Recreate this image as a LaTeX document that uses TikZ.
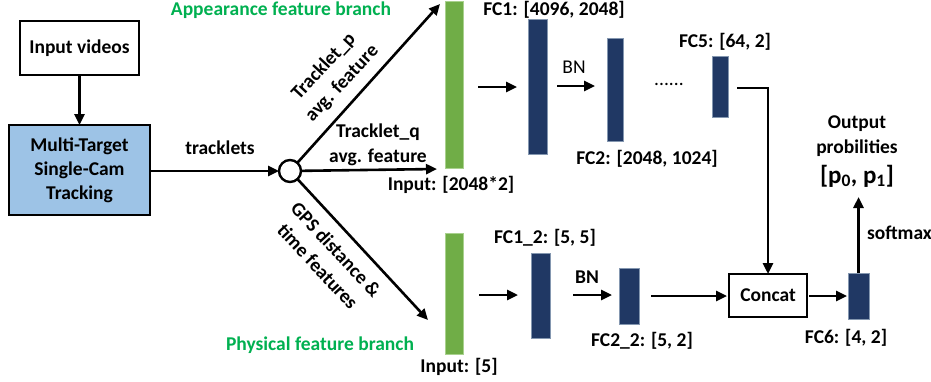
\documentclass[tikz,border=0pt]{standalone}
\usepackage{fontspec}
\setmainfont{Carlito}
\usetikzlibrary{arrows.meta,calc}
\definecolor{navy}{HTML}{203864}
\definecolor{navyedge}{HTML}{8497B0}
\definecolor{bargreen}{HTML}{70AD47}
\definecolor{greenedge}{HTML}{A9D18E}
\definecolor{txtgreen}{HTML}{00B050}
\definecolor{boxblue}{HTML}{9DC3E6}
\begin{document}
\begin{tikzpicture}[x=1pt,y=-1pt,
  every node/.style={font=\fontsize{19.5}{23}\selectfont\bfseries, inner sep=0pt, outer sep=0pt},
  lbl/.style={align=center},
  rotlbl/.style={align=center, font=\fontsize{19.5}{25}\selectfont\bfseries},
  box/.style={draw=black, line width=2pt, align=center},
  navybar/.style={draw=navyedge, line width=0.6pt, fill=navy},
  greenbar/.style={draw=greenedge, line width=0.6pt, fill=bargreen},
  arr/.style={line width=2.6pt, -{Triangle[length=11pt,width=10pt]}},
  hdr/.style={text=txtgreen},
  reg/.style={font=\fontsize{19.5}{23}\selectfont}
]
\useasboundingbox (0,0) rectangle (931,381);

% left boxes
\node[box, minimum width=119, minimum height=54] (vid) at (79.5,48) {Input videos};
\node[box, fill=boxblue, minimum width=141, minimum height=90, align=center] (mt) at (79.5,170)
  {Multi-Target\\[1pt]Single-Cam\\[1pt]Tracking};
\draw[arr] (vid) -- (mt);

% splitter circle
\node[draw=black, line width=2.4pt, circle, minimum size=22] (circ) at (290,171) {};
\draw[arr] (mt.east |- circ) -- (circ.west);
\node[lbl] (trk) at (220,148) {tracklets};

\coordinate (tipP) at (440,4);
\coordinate (tipQ) at (437,169);
\coordinate (tipG) at (428,320);
\draw[arr] (circ) -- (tipP);
\draw[arr] (circ) -- (tipQ);
\draw[arr] (circ) -- (tipG);

\node[rotlbl, rotate=47] (lp) at (333,75) {Tracklet\_p\\avg. feature};
\node[lbl] (lq) at (378,145) {Tracklet\_q\\[2pt]avg. feature};
\node[rotlbl, rotate=-47] (lg) at (327,258) {GPS distance \&\\time features};

% headers
\node[hdr] (apb) at (281,10) {Appearance feature branch};
\node[hdr] (phb) at (320,345) {Physical feature branch};

% appearance branch
\node[greenbar, minimum width=18, minimum height=167] (inp1) at (454,85) {};
\node (inp1l) at (451,185) {Input: [2048*2]};
\node[navybar, minimum width=19, minimum height=135] (fc1) at (537.5,87) {};
\node (fc1l) at (554,9.5) {FC1: [4096, 2048]};
\node[navybar, minimum width=16, minimum height=103] (fc2) at (615,89.5) {};
\node (fc2l) at (647,159) {FC2: [2048, 1024]};
\node[navybar, minimum width=16, minimum height=61] (fc5) at (720,86.5) {};
\node (fc5l) at (725,42) {FC5: [64, 2]};
\node[reg] (bn1) at (574,67) {BN};
\node[reg] (dots) at (669,84) {......};

\draw[arr, shorten <=15pt, shorten >=11pt] (inp1.east |- fc1.west) -- (fc1.west);
\draw[arr, shorten <=10pt, shorten >=12pt] (fc1.east |- 0,86) -- (fc2.west |- 0,86);

% physical branch
\node[greenbar, minimum width=18, minimum height=121] (inp2) at (454,293.5) {};
\node (inp2l) at (459,367) {Input: [5]};
\node[navybar, minimum width=19, minimum height=85] (fc12) at (540.5,295.5) {};
\node (fc12l) at (545,238) {FC1\_2: [5, 5]};
\node[navybar, minimum width=20, minimum height=56] (fc22) at (629,296) {};
\node (fc22l) at (642,341) {FC2\_2: [5, 2]};
\node (bn2) at (587,277) {BN};
\node[box, minimum width=78, minimum height=43] (cat) at (768,295.5) {Concat};
\node[navybar, minimum width=21, minimum height=46] (fc6) at (858.5,296) {};
\node (fc6l) at (846,338) {FC6: [4, 2]};

\draw[arr, shorten <=16pt, shorten >=13pt] (inp2.east |- 0,295) -- (fc12.west |- 0,295);
\draw[arr, shorten <=23pt, shorten >=7pt] (fc12.east |- 0,295) -- (fc22.west |- 0,295);
\draw[arr, shorten <=12pt, shorten >=2pt] (fc22.east |- 0,296) -- (cat.west |- 0,296);
\draw[arr, shorten <=2pt, shorten >=1pt] (cat.east |- 0,296) -- (fc6.west |- 0,296);

% concat from FC5
\draw[arr, shorten <=9pt] (fc5.east |- 0,88) -| (cat.north);

% output
\node[lbl] (outl) at (857,136) {Output\\[2pt]probilities};
\node[font=\fontsize{25}{28}\selectfont\bfseries] (pp) at (857,176) {[p\textsubscript{0}, p\textsubscript{1}]};
\draw[arr] (fc6.north) -- (fc6.north |- 0,197);
\node[anchor=west] (smx) at (867,233) {softmax};
\end{tikzpicture}
\end{document}
